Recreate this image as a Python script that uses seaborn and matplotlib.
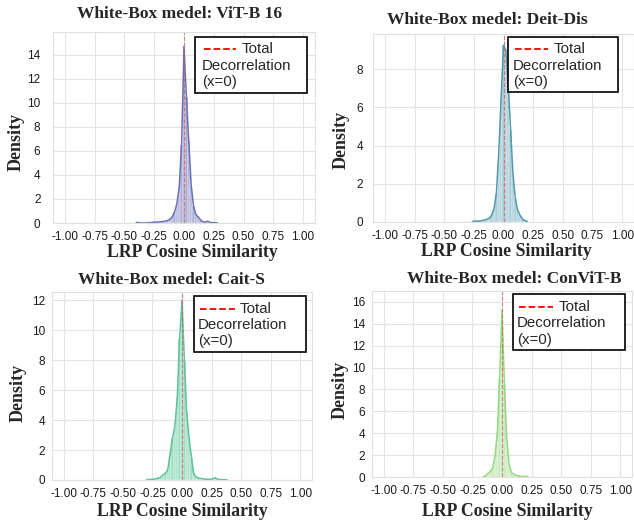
import matplotlib
matplotlib.use("Agg")
import matplotlib.pyplot as plt
from matplotlib.lines import Line2D
from matplotlib.patches import Rectangle
from matplotlib.ticker import MultipleLocator
import pandas as pd
import seaborn as sns

W, H = 634, 523

# bin centres (width 0.02) and densities
vit_x = [-0.40, -0.38, -0.36, -0.34, -0.32, -0.30, -0.28, -0.26, -0.24, -0.22,
         -0.20, -0.18, -0.16, -0.14, -0.12, -0.10, -0.08, -0.06, -0.04, -0.02,
         0.00, 0.02, 0.04, 0.06, 0.08, 0.10, 0.12, 0.14, 0.16, 0.18,
         0.20, 0.22, 0.24, 0.26, 0.28]
vit_density = [0.05, 0.02, 0.0, 0.0, 0.0, 0.02, 0.03, 0.05, 0.08, 0.08,
               0.10, 0.12, 0.15, 0.2, 0.3, 0.5, 0.9, 1.6, 3.0, 6.5,
               14.7, 10.5, 6.8, 3.2, 1.4, 0.7, 0.5, 0.25, 0.1, 0.08,
               0.15, 0.05, 0.03, 0.02, 0.01]

deit_x = [-0.26, -0.24, -0.22, -0.20, -0.18, -0.16, -0.14, -0.12, -0.10, -0.08,
          -0.06, -0.04, -0.02, 0.00, 0.02, 0.04, 0.06, 0.08, 0.10, 0.12,
          0.14, 0.16, 0.18, 0.20]
deit_density = [0.03, 0.05, 0.05, 0.05, 0.08, 0.1, 0.15, 0.2, 0.35, 0.7,
                1.5, 3.6, 6.5, 9.25, 9.0, 7.2, 4.8, 2.5, 1.2, 0.6,
                0.35, 0.15, 0.08, 0.03]

cait_x = [-0.30, -0.28, -0.26, -0.24, -0.22, -0.20, -0.18, -0.16, -0.14, -0.12,
          -0.10, -0.08, -0.06, -0.04, -0.02, 0.00, 0.02, 0.04, 0.06, 0.08,
          0.10, 0.12, 0.14, 0.16, 0.18, 0.20, 0.22, 0.24, 0.26, 0.28,
          0.30, 0.32, 0.34, 0.36, 0.38]
cait_density = [0.02, 0.03, 0.05, 0.05, 0.08, 0.12, 0.2, 0.35, 0.45, 0.7,
                1.8, 2.8, 3.6, 5.5, 9.5, 12.0, 8.0, 4.5, 2.8, 1.5,
                0.4, 0.2, 0.12, 0.1, 0.08, 0.05, 0.05, 0.05, 0.08, 0.15,
                0.05, 0.03, 0.03, 0.02, 0.02]

convit_x = [-0.16, -0.14, -0.12, -0.10, -0.08, -0.06, -0.04, -0.02, 0.00, 0.02,
            0.04, 0.06, 0.08, 0.10, 0.12, 0.14, 0.16, 0.18, 0.20, 0.22]
convit_density = [0.02, 0.1, 0.3, 0.5, 0.8, 1.8, 4.0, 9.0, 15.3, 8.5,
                  3.5, 1.2, 0.4, 0.25, 0.15, 0.1, 0.05, 0.05, 0.05, 0.05]

x_ticks = [-1.00, -0.75, -0.50, -0.25, 0.00, 0.25, 0.50, 0.75, 1.00]
legend_lines = ["Total", "Decorrelation", "(x=0)"]

# pixel layout of each panel (left, top, right, bottom) and its decorations
panels = [
    dict(model="ViT-B 16", x=vit_x, d=vit_density, fill="#5a60b0", line="#6c71b2",
         rect=(53, 32, 315, 223), ymax=15.9, ypad=9, title=(180, 14), xlab=(192, 253), ylab=(16, 142),
         box=(195, 37, 307, 93), dash=(204, 236), total_x=242, rows=(49, 66, 82)),
    dict(model="Deit-Dis", x=deit_x, d=deit_density, fill="#4f9bb0", line="#5598aa",
         rect=(373, 34, 634, 222), ymax=9.84, ypad=7, title=(487, 20), xlab=(506, 252), ylab=(341, 140),
         box=(508, 37, 618, 92), dash=(515, 548), total_x=554, rows=(49, 66, 82)),
    dict(model="Cait-S", x=cait_x, d=cait_density, fill="#3fbf8a", line="#5cc39c",
         rect=(52, 292, 312, 480), ymax=12.55, ypad=5, title=(171, 280), xlab=(182, 511), ylab=(18, 393),
         box=(194, 296, 306, 352), dash=(200, 235), total_x=240, rows=(309, 325, 341)),
    dict(model="ConViT-B", x=convit_x, d=convit_density, fill="#8fd67a", line="#95d782",
         rect=(372, 291, 632, 477), ymax=17.0, ypad=5, title=(514, 279), xlab=(507, 511), ylab=(340, 390),
         box=(513, 294, 625, 350), dash=(519, 553), total_x=559, rows=(307, 323, 340)),
]

sns.set_style("whitegrid", {"grid.color": "#e4e4e4", "axes.edgecolor": "#e0e0e0"})
plt.rcParams["font.family"] = ["Liberation Sans", "DejaVu Sans"]

fig = plt.figure(figsize=(W / 100, H / 100), dpi=100)


def fx(px):
    return px / W


def fy(py):
    return 1 - py / H


serif = dict(family="Liberation Serif", weight="bold")

for p in panels:
    l, t, r, b = p["rect"]
    ax = fig.add_axes([fx(l), fy(b), (r - l) / W, (b - t) / H])
    df = pd.DataFrame({"sim": p["x"], "density": p["d"]})
    edges = [v - 0.01 for v in p["x"]] + [p["x"][-1] + 0.01]
    sns.histplot(data=df, x="sim", weights="density", bins=edges, stat="count",
                 color=p["fill"], alpha=0.5, edgecolor="white", linewidth=0.3, ax=ax)
    sns.lineplot(data=df, x="sim", y="density", color=p["line"], linewidth=1.1, ax=ax)
    ax.axvline(0, color="#e05050", linestyle="--", linewidth=0.8, alpha=0.7)
    ax.set_xlim(-1.1, 1.1)
    ax.set_ylim(0, p["ymax"])
    ax.set_xticks(x_ticks)
    ax.set_xticklabels([f"{v:.2f}" for v in x_ticks])
    ax.yaxis.set_major_locator(MultipleLocator(2))
    ax.tick_params(labelsize=8.5, pad=6, length=0, labelcolor="#1a1a1a")
    ax.tick_params(axis="y", pad=p["ypad"])
    ax.set_xlabel("")
    ax.set_ylabel("")
    for s in ax.spines.values():
        s.set_linewidth(0.8)

    fig.text(fx(p["title"][0]), fy(p["title"][1]), "White-Box medel: " + p["model"],
             ha="center", va="center", fontsize=12.5, **serif)
    fig.text(fx(p["xlab"][0]), fy(p["xlab"][1]), "LRP Cosine Similarity",
             ha="center", va="center", fontsize=12.8, **serif)
    fig.text(fx(p["ylab"][0]), fy(p["ylab"][1]), "Density", rotation=90,
             ha="center", va="center", fontsize=13, **serif)

    # legend box drawn by hand: handle sits on the first text line
    bl, bt, br, bb = p["box"]
    fig.add_artist(Rectangle((fx(bl), fy(bb)), (br - bl) / W, (bb - bt) / H,
                             transform=fig.transFigure, facecolor="white",
                             edgecolor="black", linewidth=1.2, zorder=5))
    d0, d1 = p["dash"]
    fig.add_artist(Line2D([fx(d0), fx(d1)], [fy(p["rows"][0])] * 2, transform=fig.transFigure,
                          color="red", linestyle="--", linewidth=1.3, zorder=6))
    fig.text(fx(p["total_x"]), fy(p["rows"][0]), legend_lines[0], ha="left", va="center",
             fontsize=10.8, zorder=7)
    for txt, row in zip(legend_lines[1:], p["rows"][1:]):
        fig.text(fx(d0 - 2), fy(row), txt, ha="left", va="center", fontsize=10.8, zorder=7)

fig.savefig("out.png", dpi=100)
